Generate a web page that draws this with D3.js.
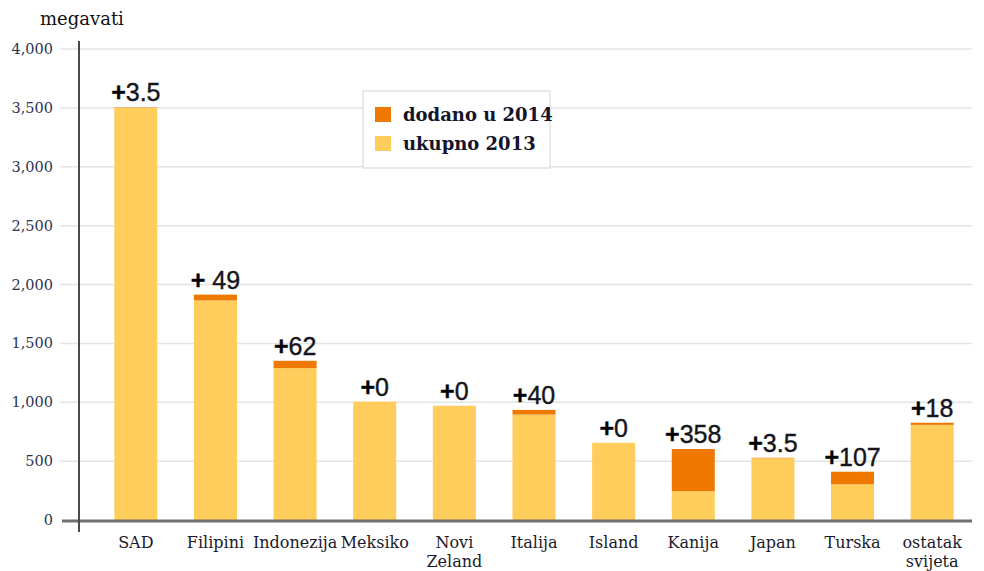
<!DOCTYPE html>
<html lang="hr">
<head>
    <meta charset="utf-8">
    <title>Geotermalna snaga</title>
    <script src="https://cdnjs.cloudflare.com/ajax/libs/d3/7.8.5/d3.min.js"></script>
    <style>
        html, body { margin: 0; padding: 0; background: #fff; }
        svg { display: block; }
    </style>
</head>
<body>
<div id="chart"></div>
<script>
    // podaci (megavati)
    var countries = [["SAD"], ["Filipini"], ["Indonezija"], ["Meksiko"], ["Novi", "Zeland"],
                     ["Italija"], ["Island"], ["Kanija"], ["Japan"], ["Turska"], ["ostatak", "svijeta"]];
    var total2013 = [3500, 1865, 1290, 1005, 970, 895, 655, 245, 525, 303, 808];
    var added2014 = [3.5, 49, 62, 0, 0, 40, 0, 358, 3.5, 107, 18];
    var addedLabels = ["3.5", " 49", "62", "0", "0", "40", "0", "358", "3.5", "107", "18"];
    var yTicks = [0, 500, 1000, 1500, 2000, 2500, 3000, 3500, 4000];

    var W = 984, H = 571;
    var yellow = "#fecd5b", orange = "#ee7800";

    var svg = d3.select("#chart").append("svg")
        .attr("width", W).attr("height", H);

    var keys = countries.map(d => d.join(" "));

    var x = d3.scaleBand()
        .domain(keys)
        .range([96, 972])
        .paddingInner(0.46)
        .paddingOuter(0.23);

    var y = d3.scaleLinear()
        .domain([0, 4000])
        .range([520, 49]);

    // mreza
    svg.append("g")
        .selectAll("line")
        .data(yTicks.slice(1))
        .enter()
        .append("line")
        .attr("x1", 60).attr("x2", 972)
        .attr("y1", d => y(d)).attr("y2", d => y(d))
        .style("stroke", "#e4e4e4")
        .style("stroke-width", 1.5);

    // oznake osi y
    svg.append("g")
        .selectAll("text")
        .data(yTicks)
        .enter()
        .append("text")
        .attr("x", 53)
        .attr("y", d => y(d) + 5)
        .attr("text-anchor", "end")
        .style("font-family", "'DejaVu Serif', serif")
        .style("font-size", "14.5px")
        .style("fill", "#2c3550")
        .text(d => d3.format(",")(d));

    svg.append("text")
        .attr("x", 40).attr("y", 25)
        .style("font-family", "'DejaVu Serif', serif")
        .style("font-size", "18px")
        .style("fill", "#111")
        .text("megavati");

    var data = keys.map((k, i) => ({ key: k, lines: countries[i], base: total2013[i], add: added2014[i], label: addedLabels[i] }));

    // stupci
    var bars = svg.append("g")
        .selectAll("g.bar")
        .data(data)
        .enter()
        .append("g")
        .attr("class", "bar");

    bars.append("rect")
        .attr("x", d => x(d.key))
        .attr("width", x.bandwidth())
        .attr("y", d => y(d.base))
        .attr("height", d => y(0) - y(d.base))
        .style("fill", yellow);

    bars.append("rect")
        .attr("x", d => x(d.key))
        .attr("width", x.bandwidth())
        .attr("y", d => y(d.base + d.add))
        .attr("height", d => y(d.base) - y(d.base + d.add))
        .style("fill", orange);

    var lbl = bars.append("text")
        .attr("x", d => x(d.key) + x.bandwidth() / 2)
        .attr("y", d => y(d.base + d.add) - 6)
        .attr("text-anchor", "middle")
        .style("font-family", "'Liberation Sans', Arial, sans-serif")
        .style("font-size", "25px")
        .style("fill", "#15151c")
        .style("stroke", "#15151c")
        .style("stroke-width", 0.4);
    lbl.append("tspan").style("font-weight", "bold").style("fill", "#000").text("+");
    lbl.append("tspan").style("white-space", "pre").text(d => d.label);

    // osi
    svg.append("line")
        .attr("x1", 62).attr("x2", 972)
        .attr("y1", 521).attr("y2", 521)
        .style("stroke", "#6f6f6f").style("stroke-width", 3);

    svg.append("line")
        .attr("x1", 79).attr("x2", 79)
        .attr("y1", 41).attr("y2", 532)
        .style("stroke", "#4a4a4a").style("stroke-width", 2);

    // kategorije
    var cat = svg.append("g")
        .selectAll("text")
        .data(data)
        .enter()
        .append("text")
        .attr("x", d => x(d.key) + x.bandwidth() / 2)
        .attr("y", 548)
        .attr("text-anchor", "middle")
        .style("font-family", "'DejaVu Serif', serif")
        .style("font-size", "16px")
        .style("fill", "#1a1a2a");
    cat.selectAll("tspan")
        .data(d => d.lines)
        .enter()
        .append("tspan")
        .attr("x", function () { return d3.select(this.parentNode).attr("x"); })
        .attr("dy", (d, i) => i === 0 ? 0 : 19)
        .text(d => d);

    // legenda
    var legend = svg.append("g");
    legend.append("rect")
        .attr("x", 363).attr("y", 91)
        .attr("width", 187).attr("height", 77)
        .style("fill", "#fff")
        .style("stroke", "#e2e2e2").style("stroke-width", 1.5);

    var legendItems = [{ name: "dodano u 2014", color: orange }, { name: "ukupno 2013", color: yellow }];
    var li = legend.selectAll("g.item")
        .data(legendItems)
        .enter()
        .append("g")
        .attr("class", "item")
        .attr("transform", (d, i) => `translate(375,${107 + i * 29})`);
    li.append("rect")
        .attr("width", 16).attr("height", 15)
        .style("fill", d => d.color);
    li.append("text")
        .attr("x", 28).attr("y", 14)
        .style("font-family", "'DejaVu Serif', serif")
        .style("font-weight", "bold")
        .style("font-size", "18px")
        .style("fill", "#14142a")
        .text(d => d.name);
</script>
</body>
</html>
